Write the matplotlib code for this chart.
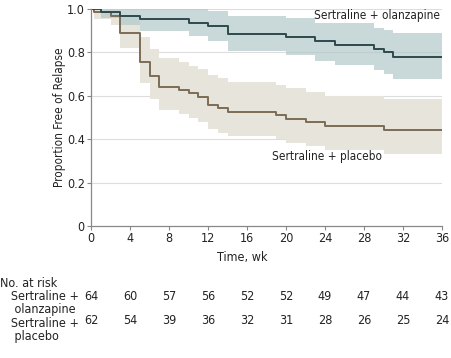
import matplotlib
matplotlib.use('Agg')
from matplotlib import pyplot as plt
from matplotlib import transforms

# Kaplan-Meier estimates (weeks, proportion)
olz_t = [0, 1, 3, 5, 10, 12, 14, 20, 23, 25, 29, 30, 31, 36]
olz_s = [1.0, 0.985, 0.970, 0.953, 0.937, 0.920, 0.886, 0.869, 0.852, 0.835, 0.817, 0.800, 0.781, 0.781]
olz_hi = [1.0, 1.0, 1.0, 1.0, 1.0, 0.990, 0.968, 0.957, 0.934, 0.934, 0.911, 0.903, 0.891, 0.891]
olz_lo = [1.0, 0.960, 0.926, 0.900, 0.876, 0.851, 0.806, 0.786, 0.762, 0.740, 0.719, 0.700, 0.679, 0.679]

pla_t = [0, 0.3, 2, 3, 5, 6, 7, 9, 10, 11, 12, 13, 14, 19, 20, 22, 24, 30, 36]
pla_s = [1.0, 0.984, 0.969, 0.888, 0.757, 0.693, 0.642, 0.629, 0.612, 0.593, 0.559, 0.542, 0.525, 0.510, 0.494, 0.478, 0.461, 0.442, 0.442]
pla_hi = [1.0, 1.0, 1.0, 0.968, 0.871, 0.814, 0.773, 0.757, 0.739, 0.722, 0.696, 0.680, 0.664, 0.650, 0.636, 0.619, 0.600, 0.585, 0.585]
pla_lo = [1.0, 0.952, 0.925, 0.819, 0.657, 0.584, 0.534, 0.515, 0.496, 0.478, 0.446, 0.430, 0.415, 0.399, 0.384, 0.369, 0.352, 0.333, 0.333]

risk_weeks = [0, 4, 8, 12, 16, 20, 24, 28, 32, 36]
risk_olz = [64, 60, 57, 56, 52, 52, 49, 47, 44, 43]
risk_pla = [62, 54, 39, 36, 32, 31, 28, 26, 25, 24]

plt.rcParams['font.family'] = ['DejaVu Sans']
plt.rcParams['font.stretch'] = 'condensed'
plt.rcParams['font.size'] = 8.5

fig = plt.figure(figsize=(4.51, 3.58), dpi=100)
ax = fig.add_axes([91 / 451, 1 - 226 / 358, 351 / 451, 217 / 358])

ax.fill_between(pla_t, pla_lo, pla_hi, step='post', color='#e7e4dc', lw=0, zorder=1)
ax.fill_between(olz_t, olz_lo, olz_hi, step='post', color='#b2c9ca', alpha=0.7, lw=0, zorder=2)
ax.step(pla_t, pla_s, where='post', color='#7d6b55', lw=1.4, zorder=4)
ax.step(olz_t, olz_s, where='post', color='#2d4a4c', lw=1.4, zorder=5)

ax.set_xlim(0, 36)
ax.set_ylim(0, 1.0)
ax.set_xticks(risk_weeks)
ax.set_yticks([0, 0.2, 0.4, 0.6, 0.8, 1.0])
ax.set_yticklabels(['0', '0.2', '0.4', '0.6', '0.8', '1.0'])
for y in [0.2, 0.4, 0.6, 0.8, 1.0]:
    ax.axhline(y, color='#dddddd', lw=0.8, zorder=0)
for s in ['top', 'right']:
    ax.spines[s].set_visible(False)
for s in ['left', 'bottom']:
    ax.spines[s].set_color('#888888')
    ax.spines[s].set_linewidth(0.9)
ax.spines['left'].set_zorder(6)
ax.tick_params(axis='both', length=3, width=0.8, color='#888888', pad=1.5,
               labelsize=9, labelcolor='#222222')

ax.text(35.8, 0.972, 'Sertraline + olanzapine', ha='right', va='center', fontsize=8.5, color='#222222', zorder=7)
ax.text(24.2, 0.318, 'Sertraline + placebo', ha='center', va='center', fontsize=8.5, color='#222222')

fig.text(59 / 451, 1 - 117 / 358, 'Proportion Free of Relapse', rotation=90,
         ha='center', va='center', fontsize=8.5, color='#222222')
fig.text(242 / 451, 1 - 258 / 358, 'Time, wk', ha='center', va='center', fontsize=9, color='#222222')

# number at risk table: label column as one block, counts under the ticks
fig.text(0.0, 1 - 310 / 358,
         'No. at risk\n   Sertraline +\n    olanzapine\n   Sertraline +\n    placebo',
         ha='left', va='center', fontsize=9, linespacing=1.03, color='#222222')
trans = transforms.blended_transform_factory(ax.transData, fig.transFigure)
for counts, y1 in [(risk_olz, 297), (risk_pla, 320)]:
    for wk, n in zip(risk_weeks, counts):
        ax.text(wk, 1 - y1 / 358, str(n), transform=trans, ha='center', va='center',
                fontsize=9, color='#222222')

fig.savefig('out.png', dpi=100)
